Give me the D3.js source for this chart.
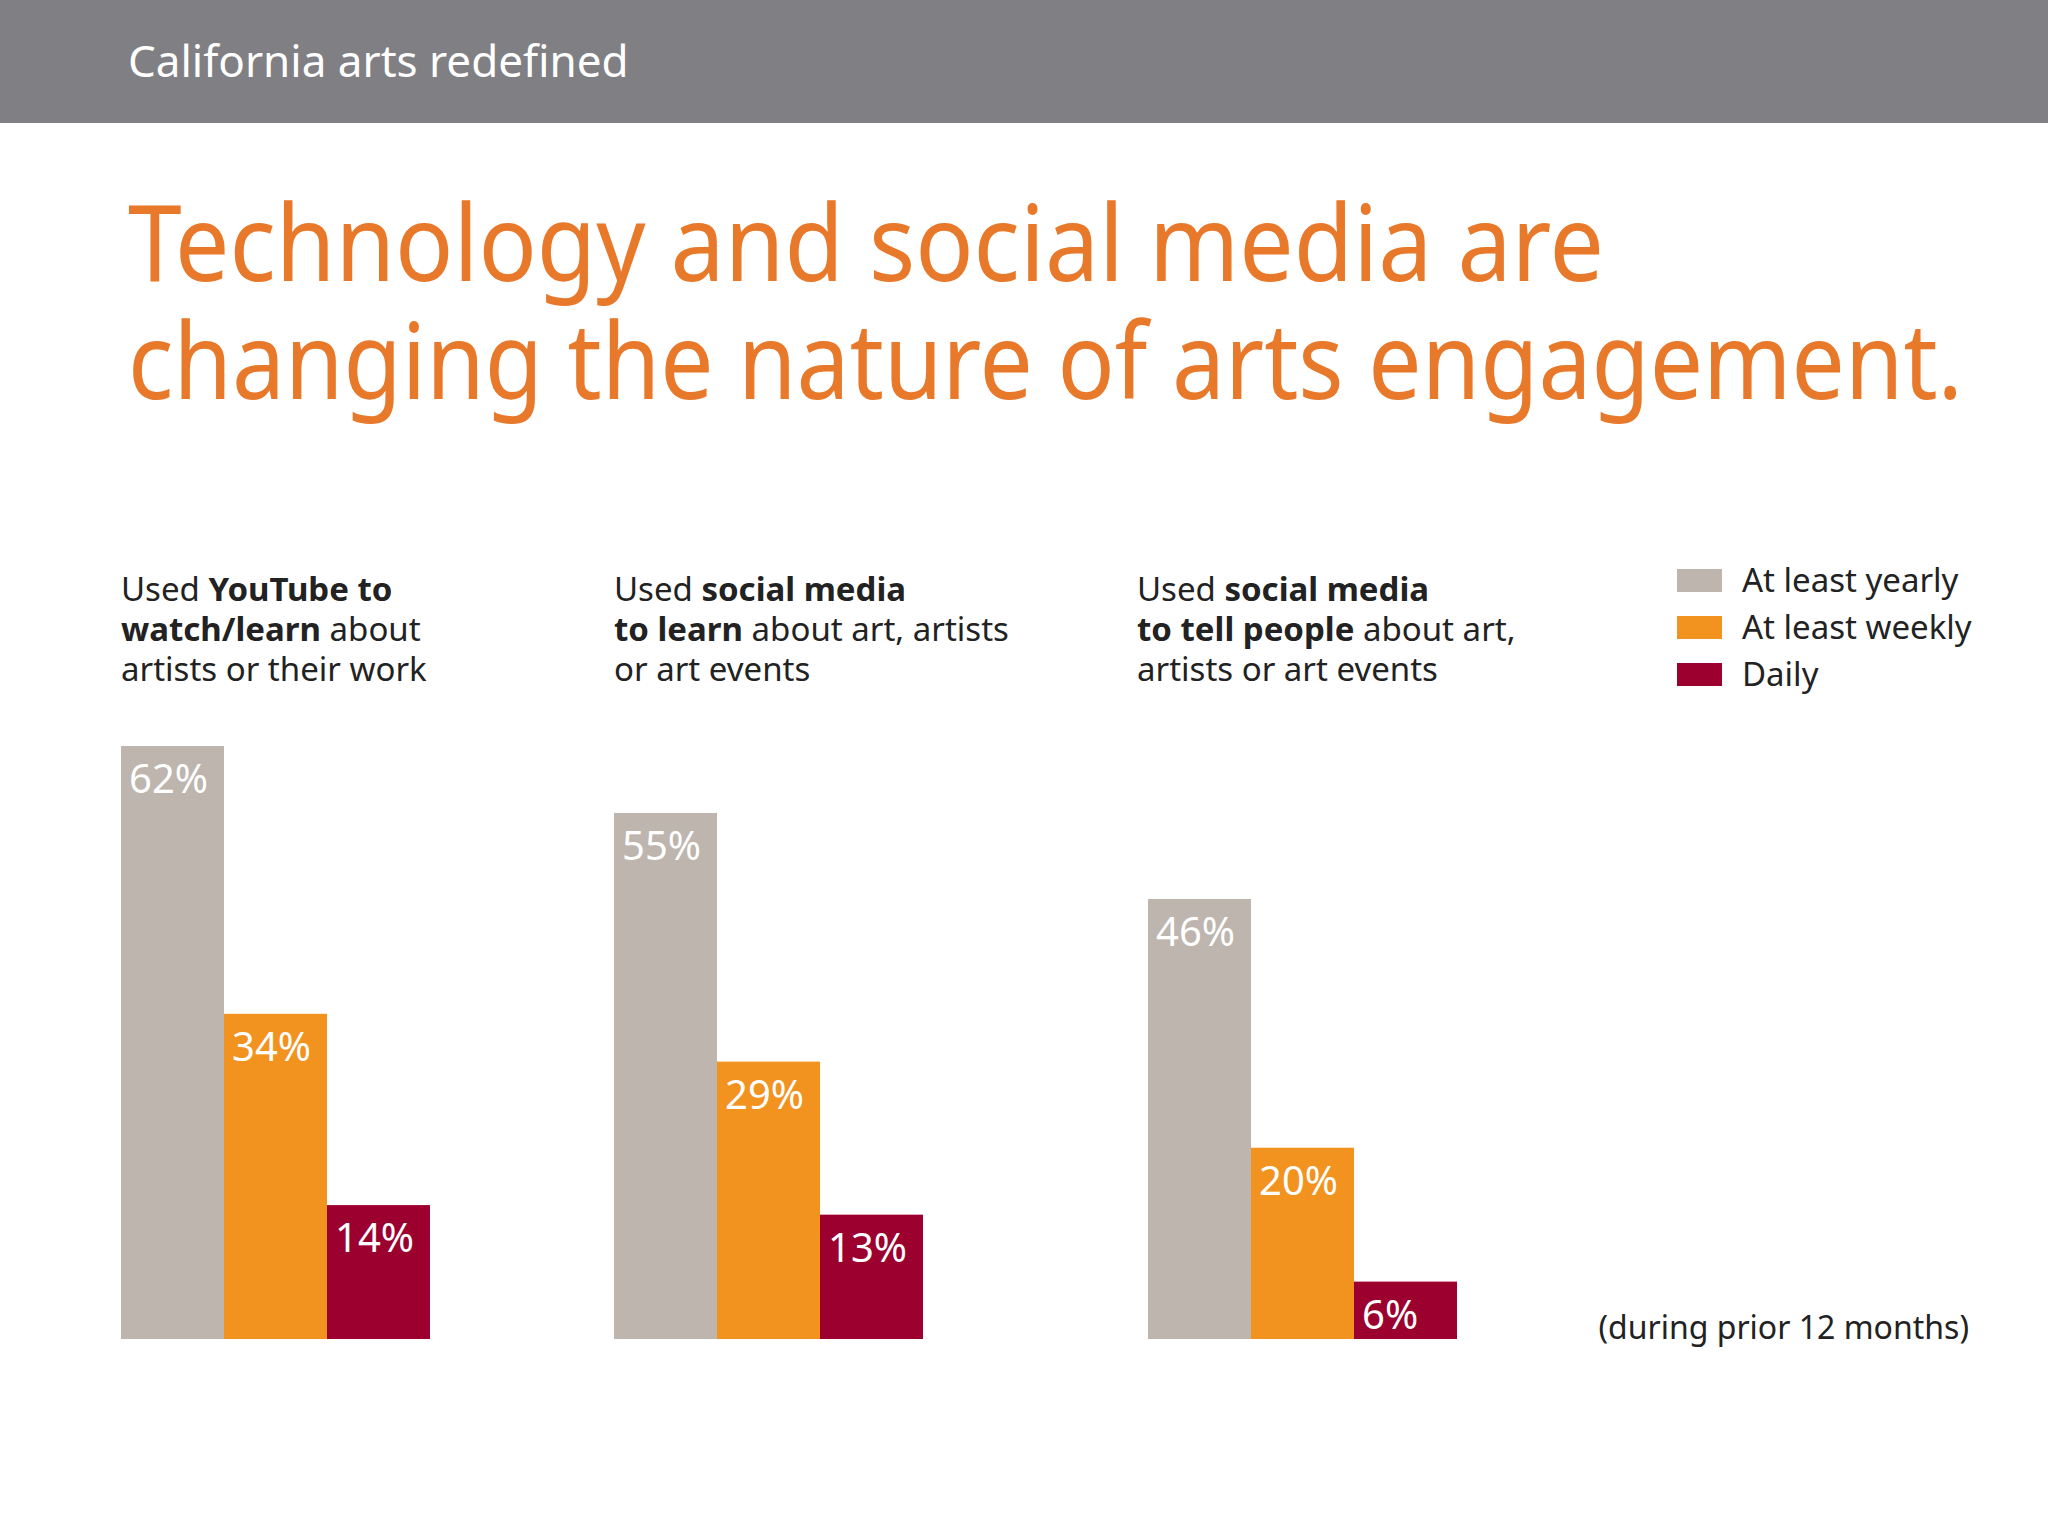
<!DOCTYPE html>
<html>
<head>
<meta charset="utf-8">
<script src="https://cdn.jsdelivr.net/npm/d3@7"></script>
<style>
  body { margin: 0; background: #fff; }
  svg { display: block; font-family: "Noto Sans", "Open Sans", sans-serif; }
</style>
</head>
<body>
<div id="chart"></div>
<script>
// Data
var groups = ["youtube", "learn", "tell"];
var series = ["At least yearly", "At least weekly", "Daily"];
var yearly = [62, 55, 46];
var weekly = [34, 29, 20];
var daily = [14, 13, 6];
var colors = ["#bdb5ae", "#f2921f", "#9b002f"];

// Subtitle lines as [text, bold] pieces
var subtitles = [
    [[["Used ", false], ["YouTube to", true]], [["watch/learn", true], [" about", false]], [["artists or their work", false]]],
    [[["Used ", false], ["social media", true]], [["to learn", true], [" about art, artists", false]], [["or art events", false]]],
    [[["Used ", false], ["social media", true]], [["to tell people", true], [" about art,", false]], [["artists or art events", false]]]
];

var width = 2048, height = 1536;
var svg = d3.select("#chart").append("svg")
    .attr("width", width).attr("height", height);

// Header bar
svg.append("rect").attr("width", width).attr("height", 123).attr("fill", "#808084");
svg.append("text").attr("x", 128).attr("y", 77)
    .attr("font-size", 44).attr("fill", "#fff")
    .text("California arts redefined");

// Headline (squeezed to the original's narrower typeface widths)
var headline = ["Technology and social media are", "changing the nature of arts engagement."];
var headlineW = [1476, 1835];
svg.selectAll(".headline").data(headline).enter().append("text")
    .attr("class", "headline")
    .attr("x", 128)
    .attr("y", function(d, i) { return 281 + i * 118; })
    .attr("font-size", 106).attr("fill", "#e8782a")
    .attr("textLength", function(d, i) { return headlineW[i]; })
    .attr("lengthAdjust", "spacingAndGlyphs")
    .text(function(d) { return d; });

// Scales
var groupX = [121, 614, 1148];
var subX = [121, 614, 1137];
var barW = 103;
var y = d3.scaleLinear().domain([0, 62]).range([1339, 746]);

var values = [yearly, weekly, daily];

groups.forEach(function(g, gi) {
    // subtitle, one text per line
    subtitles[gi].forEach(function(line, li) {
        var t = svg.append("text")
            .attr("x", subX[gi]).attr("y", 601 + li * 40)
            .attr("font-size", 33).attr("fill", "#222");
        line.forEach(function(piece) {
            t.append("tspan")
                .attr("font-weight", piece[1] ? "bold" : "normal")
                .text(piece[0]);
        });
    });

    values.forEach(function(vals, si) {
        var x0 = groupX[gi] + si * barW;
        svg.append("rect")
            .attr("x", x0).attr("y", y(vals[gi]))
            .attr("width", barW).attr("height", y(0) - y(vals[gi]))
            .attr("fill", colors[si]);
        svg.append("text")
            .attr("x", x0 + 8).attr("y", y(vals[gi]) + 47)
            .attr("font-size", 40).attr("fill", "#fff")
            .text(vals[gi] + "%");
    });
});

// Legend
series.forEach(function(s, i) {
    svg.append("rect")
        .attr("x", 1677).attr("y", 569 + i * 47)
        .attr("width", 45).attr("height", 23)
        .attr("fill", colors[i]);
    svg.append("text")
        .attr("x", 1742).attr("y", 592 + i * 47)
        .attr("font-size", 33).attr("fill", "#222")
        .text(s);
});

svg.append("text")
    .attr("x", 1969).attr("y", 1339)
    .attr("text-anchor", "end")
    .attr("font-size", 32).attr("fill", "#222")
    .text("(during prior 12 months)");
</script>
</body>
</html>
